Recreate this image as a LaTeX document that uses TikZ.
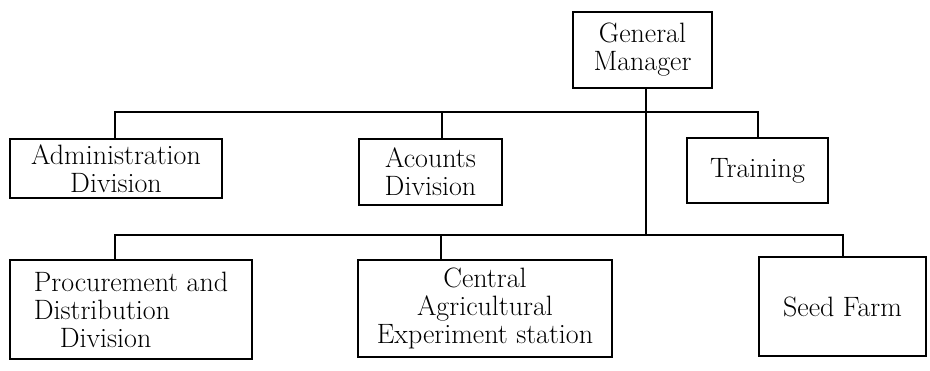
\documentclass[tikz,border=0pt]{standalone}
\begin{document}
\begin{tikzpicture}[x=1pt,y=-1pt,
  box/.style={draw,line width=1.6pt,inner sep=0pt,align=center,font=\fontsize{28}{28}\selectfont},
  conn/.style={line width=1.6pt}]
\useasboundingbox (0,0) rectangle (930,371);
\node[box,minimum width=139pt,minimum height=76pt] (gm) at (642.5,50) {General\\Manager};
\node[box,minimum width=212pt,minimum height=59pt] (adm) at (116,168.5) {Administration\\Division};
\node[box,minimum width=143pt,minimum height=66pt] (acc) at (430.5,172) {Acounts\\Division};
\node[box,minimum width=141pt,minimum height=65pt] (trn) at (757.5,170.5) {Training};
\node[box,minimum width=242pt,minimum height=99pt,align=left] (pro) at (131,309.5) {Procurement and\\Distribution\\\hspace*{26pt}Division};
\node[box,minimum width=254pt,minimum height=97pt] (cen) at (485,308.5) {Central\\Agricultural\\Experiment station};
\node[box,minimum width=167pt,minimum height=99pt] (sed) at (842.5,306.5) {Seed Farm};
\coordinate (t1) at (646,112);
\coordinate (t2) at (646,235);
\coordinate (a1) at (442,112);
\coordinate (tr1) at (758,112);
\coordinate (p1) at (115,235);
\coordinate (c1) at (441,235);
\coordinate (s1) at (843,235);
\coordinate (ad1) at (115,112);
\draw[conn] (gm.south -| t1) -- (t2);
\draw[conn] (ad1 |- adm.north) -- (ad1) -- (tr1) -- (tr1 |- trn.north);
\draw[conn] (a1) -- (a1 |- acc.north);
\draw[conn] (p1 |- pro.north) -- (p1) -- (s1) -- (s1 |- sed.north);
\draw[conn] (c1) -- (c1 |- cen.north);
\end{tikzpicture}
\end{document}
